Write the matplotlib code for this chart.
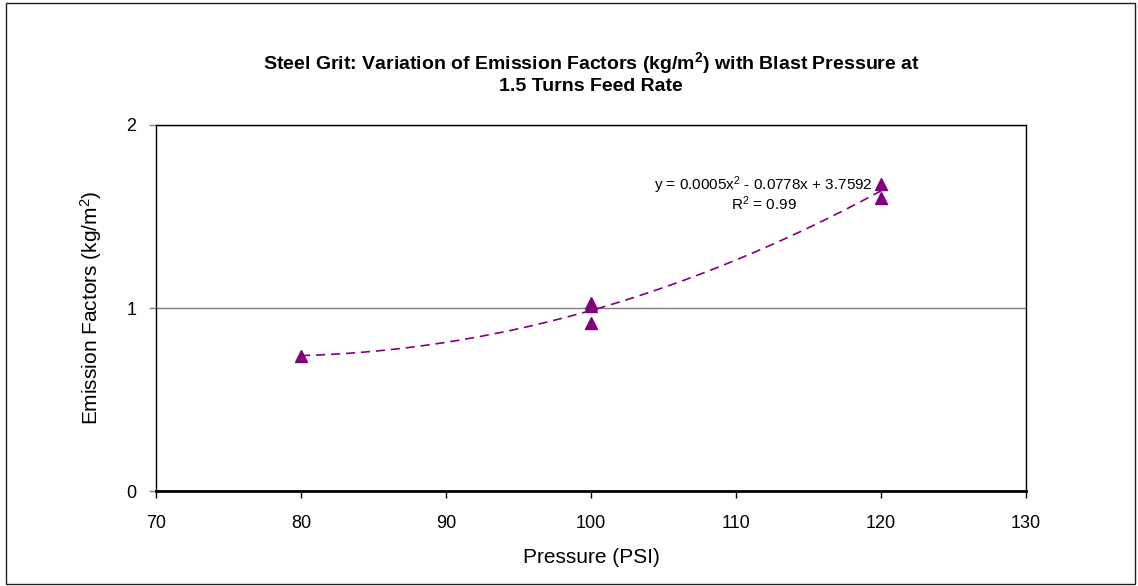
import numpy as np
import matplotlib
matplotlib.use('Agg')
import matplotlib.pyplot as plt
from matplotlib.patches import Rectangle

plt.rcParams['font.family'] = ['Liberation Sans', 'DejaVu Sans']
plt.rcParams['mathtext.fontset'] = 'custom'
plt.rcParams['mathtext.rm'] = 'Liberation Sans'
plt.rcParams['mathtext.it'] = 'Liberation Sans:italic'
plt.rcParams['mathtext.bf'] = 'Liberation Sans:bold'

# Data
pressure = [80, 100, 100, 100, 120, 120]
emission = [0.74, 1.03, 1.01, 0.92, 1.68, 1.60]
x_ticks = [70, 80, 90, 100, 110, 120, 130]
y_ticks = [0, 1, 2]
equation = 'y = 0.0005x$^2$ - 0.0778x + 3.7592'
r_squared = 'R$^2$ = 0.99'

fig = plt.figure(figsize=(11.38, 5.86), dpi=100)
ax = fig.add_axes([0.1371, 0.1621, 0.7645, 0.6246])

# Second order polynomial trendline
coef = np.polyfit(pressure, emission, 2)
xs = np.linspace(min(pressure), max(pressure), 200)
ax.plot(xs, np.polyval(coef, xs), color='#800080', lw=1.2,
        linestyle=(0, (5.5, 3.5)), zorder=3)

ax.plot(pressure, emission, linestyle='none', marker='^', markersize=8,
        color='#800080', zorder=4)

ax.set_xlim(70, 130)
ax.set_ylim(0, 2)
ax.set_xticks(x_ticks)
ax.set_yticks(y_ticks)
ax.tick_params(axis='x', labelsize=13, length=5, width=1, pad=12, color='black')
ax.tick_params(axis='y', labelsize=13, length=5, width=1, pad=9, color='#808080')
ax.yaxis.grid(True, color='#808080', lw=1)
ax.set_axisbelow(True)

for side in ['left', 'top', 'right']:
    ax.spines[side].set_linewidth(1)
    ax.spines[side].set_color('black')
ax.spines['bottom'].set_linewidth(2)

ax.set_xlabel('Pressure (PSI)', fontsize=15, labelpad=12)
ax.set_ylabel('Emission Factors (kg/m$^2$)', fontsize=15, labelpad=16)

# Trendline label
ax.text(111.9, 1.672, equation, fontsize=11, ha='center', va='center')
ax.text(111.9, 1.572, r_squared, fontsize=11, ha='center', va='center')

fig.text(591 / 1138, 1 - 72.5 / 586,
         'Steel Grit: Variation of Emission Factors (kg/m$^{\\mathbf{2}}$) with Blast Pressure at\n'
         '1.5 Turns Feed Rate',
         ha='center', va='center', fontsize=14, fontweight='bold',
         multialignment='center', linespacing=1.2)

# Outer chart border
fig.patches.append(Rectangle((6 / 1138, 2 / 586), 1129 / 1138, 581 / 586,
                             transform=fig.transFigure, fill=False,
                             edgecolor='#202020', lw=1))

fig.savefig('out.png', dpi=100)
